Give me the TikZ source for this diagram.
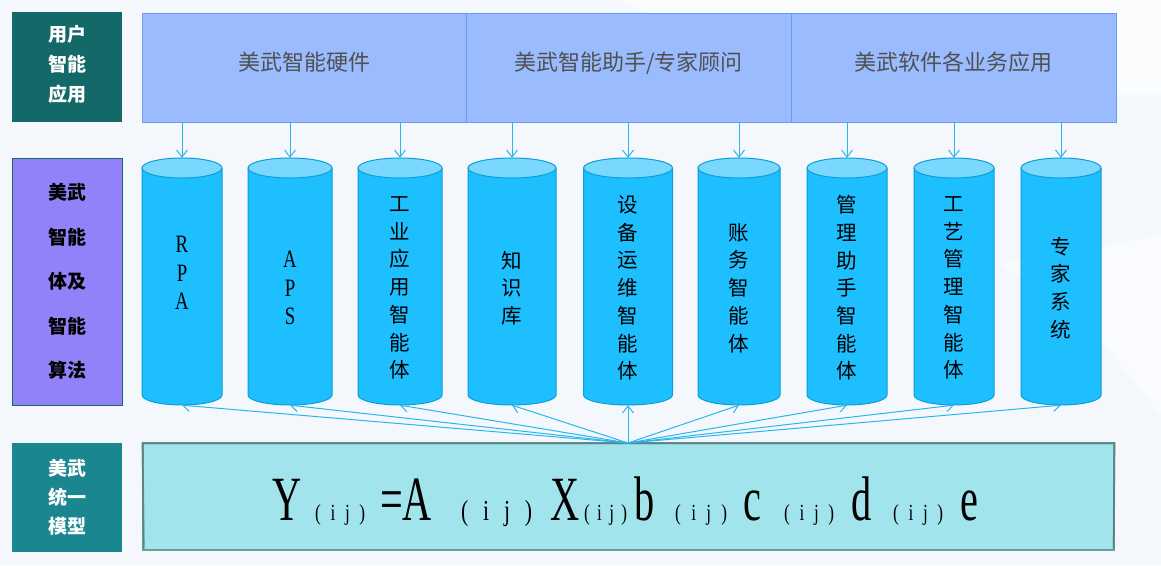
\documentclass[tikz,border=0pt]{standalone}
\usepackage{fontspec}
\setmainfont{Liberation Serif}
\newfontfamily\cjk{Noto Sans CJK SC}
\newfontfamily\narrow[FakeStretch=0.64]{Liberation Serif}
\newfontfamily\narrowb[FakeStretch=0.75]{Liberation Serif}
\usetikzlibrary{arrows.meta}
\definecolor{bgc}{HTML}{F4F8FD}
\definecolor{tealA}{HTML}{136868}
\definecolor{purp}{HTML}{9282FA}
\definecolor{tealB}{HTML}{1A8790}
\definecolor{topfill}{HTML}{9ABCFF}
\definecolor{topdraw}{HTML}{6B9BF0}
\definecolor{cylbody}{HTML}{1EBFFF}
\definecolor{cyltop}{HTML}{7AD8FF}
\definecolor{cyldraw}{HTML}{0D9ED4}
\definecolor{arrowc}{HTML}{29B6EE}
\definecolor{fmfill}{HTML}{A2E4EC}
\definecolor{fmdraw}{HTML}{6B9C9E}
\definecolor{toptext}{HTML}{505050}
\newcommand{\toplift}[1]{\raisebox{-3.5pt}[0pt][0pt]{#1}}
\tikzset{
  lab/.style={minimum width=110pt, minimum height=110pt, inner sep=0pt, align=center},
  labw/.style={lab, text=white, font=\cjk\bfseries\fontsize{19}{30}\selectfont},
  topbox/.style={fill=topfill, draw=topdraw, line width=0.8pt, minimum height=109pt, inner sep=0pt,
     text=toptext, font=\cjk\fontsize{22}{25}\selectfont},
  cyltext/.style={inner sep=0pt, align=center, font=\cjk\fontsize{20.5}{27.7}\selectfont},
  cyllat/.style={inner sep=0pt, align=center, font=\narrowb\fontsize{25}{28.5}\selectfont},
  conn/.style={draw=arrowc, line width=1pt, -{Straight Barb[length=7pt,width=11pt,line width=1pt]}},
  big/.style={inner sep=0pt, anchor=base west, font=\narrow\fontsize{63}{63}\selectfont},
  sub/.style={inner sep=0pt, anchor=base west, font=\narrowb\fontsize{23}{23}\selectfont},
  subb/.style={inner sep=0pt, anchor=base west, font=\narrowb\fontsize{29}{29}\selectfont},
}
\begin{document}
\begin{tikzpicture}[x=1pt,y=1pt]
\useasboundingbox (0,0) rectangle (1161,565);
\fill[bgc] (0,0) rectangle (1161,565);
\fill[white,opacity=0.6] (620,565) .. controls (760,500) and (900,470) .. (1161,470) -- (1161,565) -- cycle;
\fill[white,opacity=0.5] (1000,300) .. controls (1080,260) and (1120,200) .. (1161,150) -- (1161,330) -- cycle;

% left labels
\node[lab, fill=tealA, label={[inner sep=0pt, align=center, text=white, font=\cjk\bfseries\fontsize{19}{30}\selectfont, yshift=3pt]center:{用户\\智能\\应用}}] (L1) at (67,498) {};
\node[lab, fill=purp, draw=tealA, line width=0.8pt, minimum height=247pt,
      font=\cjk\bfseries\fontsize{19}{44.5}\selectfont] (L2) at (67,283.5) {美武\\智能\\体及\\智能\\算法};
\node[labw, fill=tealB, minimum height=109pt, font=\cjk\bfseries\fontsize{19}{29}\selectfont] (L3) at (67,67.5) {美武\\统一\\模型};

% top boxes
\node[topbox, minimum width=324pt] (T1) at (304,497.5) {\toplift{美武智能硬件}};
\node[topbox, minimum width=325pt] (T2) at (628.5,497.5) {\toplift{美武智能助手/专家顾问}};
\node[topbox, minimum width=325pt] (T3) at (953.5,497.5) {\toplift{美武软件各业务应用}};

% formula box
\node[fill=fmfill, draw=fmdraw, line width=1.2pt, minimum width=971pt, minimum height=107pt, inner sep=0pt] (F) at (628.5,68.5) {};
\draw[fmdraw!70!black, opacity=0.5, line width=2pt] (F.south west)++(1.5,2) -- ([yshift=-1pt]F.north west) -- ([yshift=-1pt]F.north east) -- ([xshift=-1pt,yshift=2pt]F.south east);
\coordinate (hub) at (628,122);

% cylinders
\foreach \i/\cx/\w in {1/182/80,2/290/84,3/400/84,4/512/88,5/628/89,6/739/82,7/847/80,8/954/80,9/1061/80}{
  \pgfmathsetmacro{\r}{\w/2}
  \fill[cylbody] (\cx-\r,397) -- (\cx-\r,170) arc[start angle=180,end angle=360,x radius=\r,y radius=10] -- (\cx+\r,397) -- cycle;
  \draw[cyldraw, line width=1pt] (\cx-\r,397) -- (\cx-\r,170) arc[start angle=180,end angle=360,x radius=\r,y radius=10] -- (\cx+\r,397);
  \draw[cyldraw, fill=cyltop, line width=1pt] (\cx,397) ellipse[x radius=\r,y radius=10];
  \node[minimum width=\w pt, minimum height=247pt, inner sep=0pt] (C\i) at (\cx,283.5) {};
}
\node[cyllat] (t1) at (182,292) {R\\P\\A};
\node[cyllat] (t2) at (290,277) {A\\P\\S};
\node[cyltext] (t3) at (400,277) {工\\业\\应\\用\\智\\能\\体};
\node[cyltext] (t4) at (512,277) {知\\识\\库};
\node[cyltext] (t5) at (628,277) {设\\备\\运\\维\\智\\能\\体};
\node[cyltext] (t6) at (739,277) {账\\务\\智\\能\\体};
\node[cyltext] (t7) at (847,277) {管\\理\\助\\手\\智\\能\\体};
\node[cyltext] (t8) at (954,277) {工\\艺\\管\\理\\智\\能\\体};
\node[cyltext] (t9) at (1061,277) {专\\家\\系\\统};

% arrows from top boxes
\foreach \i/\src in {1/T1,2/T1,3/T1,4/T2,5/T2,6/T2,7/T3,8/T3,9/T3}{
  \draw[conn] (\src.south -| C\i.north) -- (C\i.north);
}
% arrows from hub
\foreach \i in {1,...,9}{
  \draw[conn] (hub) -- (C\i.south);
}

% formula
\node[big] (f1) at (272,45) {Y};
\node[sub] (f2) at (315,45) {\makebox[50pt][s]{(\hfil i\hfil j\hfil)}};
\node[big] (f3) at (380,45) {=A};
\node[subb] (f4) at (461,45) {\makebox[71pt][s]{(\hfil i\hfil j\hfil)}};
\node[big] (f5) at (550,45) {X};
\node[sub] (f6) at (584,45) {\makebox[43pt][s]{(\hfil i\hfil j\hfil)}};
\node[big] (f7) at (634,45) {b};
\node[sub] (f8) at (675,45) {\makebox[52pt][s]{(\hfil i\hfil j\hfil)}};
\node[big] (f9) at (743,45) {c};
\node[sub] (f10) at (784,45) {\makebox[50pt][s]{(\hfil i\hfil j\hfil)}};
\node[big] (f11) at (851,45) {d};
\node[sub] (f12) at (893,45) {\makebox[50pt][s]{(\hfil i\hfil j\hfil)}};
\node[big] (f13) at (960,45) {e};
\end{tikzpicture}
\end{document}
